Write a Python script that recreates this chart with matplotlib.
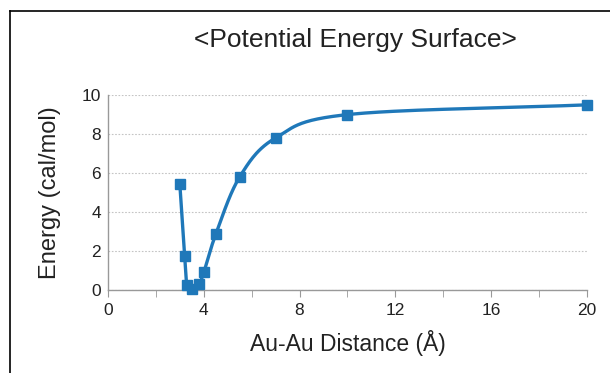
import numpy as np
import matplotlib
matplotlib.use('Agg')
import matplotlib.pyplot as plt
from matplotlib.lines import Line2D

plt.rcParams['font.family'] = ['Liberation Sans', 'DejaVu Sans']

# data
dist = [3.0, 3.2, 3.3, 3.5, 3.8, 4.0, 4.5, 5.5, 7.0, 10.0, 20.0]
energy = [5.45, 1.75, 0.25, 0.05, 0.3, 0.9, 2.85, 5.8, 7.8, 9.0, 9.5]
xticks = [0, 4, 8, 12, 16, 20]
yticks = [0, 2, 4, 6, 8, 10]

blue = '#1f78b9'


def smooth(x, y, n=30):
    # catmull-rom through the points, like the spreadsheet "smoothed line"
    p = np.column_stack((x, y))
    p = np.vstack((p[0] - (p[1] - p[0]), p, p[-1] + (p[-1] - p[-2])))
    out = []
    for i in range(1, len(p) - 2):
        p0, p1, p2, p3 = p[i - 1], p[i], p[i + 1], p[i + 2]
        t = np.linspace(0, 1, n)[:, None]
        seg = 0.5 * ((2 * p1) + (-p0 + p2) * t + (2 * p0 - 5 * p1 + 4 * p2 - p3) * t**2
                     + (-p0 + 3 * p1 - 3 * p2 + p3) * t**3)
        out.append(seg)
    out = np.vstack(out)
    return out[:, 0], out[:, 1]


fig = plt.figure(figsize=(6.1, 3.73), dpi=100)
ax = fig.add_axes([0.177, 0.2225, 0.785, 0.5225])

sx, sy = smooth(dist, energy)
ax.plot(sx, sy, color=blue, lw=2.4, solid_capstyle='round', zorder=3)
ax.plot(dist, energy, 's', color=blue, ms=7, zorder=4, clip_on=False)

ax.set_xlim(0, 20)
ax.set_ylim(0, 10)
ax.set_xticks(xticks)
ax.set_xticks(np.arange(0, 21, 2), minor=True)
ax.set_yticks(yticks)
ax.tick_params(axis='x', which='both', direction='out', length=5, color='#999999',
               labelsize=12.5, pad=4, labelcolor='#222222')
ax.tick_params(axis='y', length=0, labelsize=12.5, pad=5, labelcolor='#222222')
ax.grid(axis='y', color='#c4c4c4', linestyle=(0, (1.5, 1.5)), lw=0.8)
for s in ['top', 'right']:
    ax.spines[s].set_visible(False)
for s in ['left', 'bottom']:
    ax.spines[s].set_color('#999999')
    ax.spines[s].set_linewidth(1)

ax.set_xlabel('Au-Au Distance (Å)', fontsize=16.5, labelpad=9, color='#222222')
ax.set_ylabel('Energy (cal/mol)', fontsize=17, labelpad=15, color='#222222')
fig.text(0.582, 0.892, '<Potential Energy Surface>', fontsize=19, ha='center', va='center',
         color='#222222')

# outer frame (left and top edges only visible)
fig.add_artist(Line2D([9.5 / 610, 9.5 / 610], [0, 1 - 11 / 373], color='black', lw=1.2))
fig.add_artist(Line2D([9.5 / 610, 1], [1 - 11 / 373, 1 - 11 / 373], color='black', lw=1.2))

fig.savefig('out.png', dpi=100)
